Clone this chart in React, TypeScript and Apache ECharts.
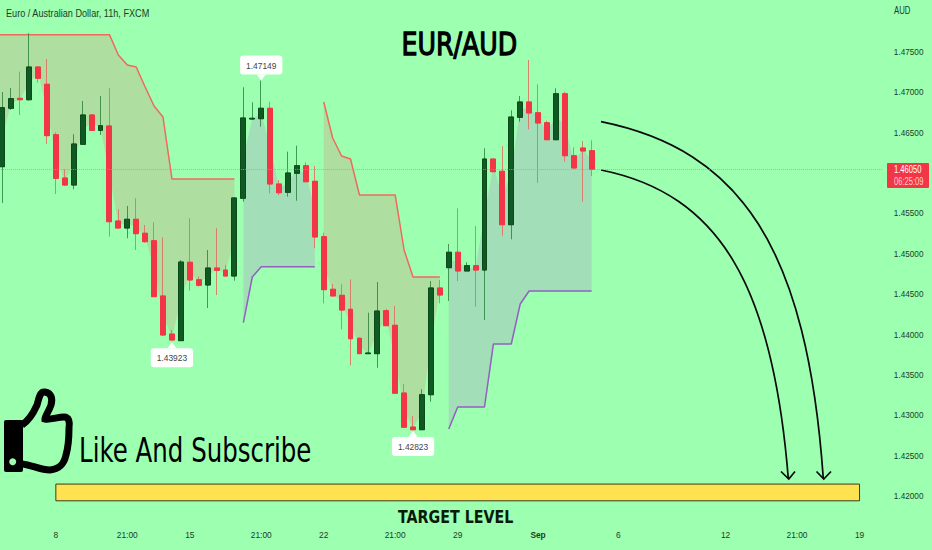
import React, { useEffect, useRef } from "react";
import * as echarts from "echarts";

// [open, close, low, high]; the first candle sits just off the page's left edge
const candles: number[][] = [
  [1.4592,1.4606,1.4585,1.4612],
  [1.46083,1.46813,1.45634,1.47007],[1.46806,1.46925,1.46785,1.47057],[1.46929,1.46912,1.46723,1.47259],[1.46912,1.47317,1.469,1.47734],
  [1.47317,1.47177,1.47123,1.47329],[1.47103,1.46467,1.46364,1.47416],[1.46479,1.45939,1.45745,1.46509],[1.45943,1.45856,1.45844,1.46051],
  [1.45856,1.46364,1.45803,1.46484],[1.4636,1.46723,1.4636,1.46896],[1.46723,1.46533,1.46528,1.46731],[1.46533,1.4659,1.46475,1.46958],
  [1.46587,1.45402,1.45217,1.47053],[1.45411,1.45324,1.45324,1.45556],[1.45324,1.45432,1.45197,1.45597],[1.45432,1.45254,1.45052,1.45692],
  [1.45259,1.45155,1.45142,1.45361],[1.45167,1.44474,1.44474,1.45395],[1.44483,1.44,1.43988,1.45209],[1.44012,1.43938,1.43923,1.44062],
  [1.4393,1.44903,1.4393,1.44928],[1.449,1.44681,1.44548,1.45444],[1.44684,1.44615,1.44598,1.44722],[1.44619,1.44829,1.44334,1.45052],
  [1.44829,1.44801,1.44495,1.45321],[1.44804,1.4473,1.4473,1.44866],[1.4473,1.45696,1.44672,1.45704],[1.45692,1.46686,1.4565,1.47066],
  [1.46673,1.46682,1.4666,1.4688],[1.46677,1.46806,1.46578,1.47149],[1.46806,1.45869,1.45754,1.46887],[1.45869,1.45761,1.45733,1.45918],
  [1.45766,1.46005,1.45712,1.46269],[1.46001,1.46095,1.45662,1.46343],[1.46095,1.45897,1.45897,1.46137],[1.45902,1.45213,1.45073,1.46092],
  [1.45217,1.44561,1.44392,1.45266],[1.44566,1.44483,1.44483,1.44631],[1.44491,1.44309,1.44071,1.44628],[1.44318,1.43954,1.43625,1.44689],
  [1.43959,1.43769,1.43769,1.43972],[1.43769,1.43777,1.43769,1.44276],[1.43769,1.44297,1.43595,1.44656],[1.44301,1.44115,1.44115,1.44322],
  [1.4412,1.43279,1.43279,1.44359],[1.43282,1.42858,1.42858,1.43394],[1.42861,1.42828,1.42823,1.42998],[1.42828,1.43261,1.42823,1.43328],
  [1.43261,1.44582,1.43175,1.44668],[1.44582,1.44495,1.44392,1.44681],[1.44833,1.45024,1.44421,1.45126],[1.45024,1.44792,1.44668,1.45568],
  [1.44792,1.44858,1.44792,1.449],[1.44858,1.44804,1.4435,1.45349],[1.44804,1.46178,1.44186,1.46311],[1.46178,1.46021,1.46021,1.46178],
  [1.46026,1.45365,1.45229,1.46339],[1.45365,1.46698,1.45184,1.46781],[1.46694,1.46884,1.4664,1.46958],[1.46884,1.46748,1.46546,1.47403],
  [1.46751,1.46624,1.45885,1.47103],[1.46627,1.46417,1.46417,1.46652],[1.46417,1.46986,1.46413,1.47053],[1.46986,1.46219,1.46145,1.47011],
  [1.46219,1.46067,1.46067,1.46323],[1.46314,1.46277,1.4565,1.46401],[1.46281,1.4605,1.45968,1.4641],
];

const redLineA = [1.47717,1.47717,1.47717,1.47717,1.47717,1.47717,1.47717,1.47717,1.47717,1.47717,1.47717,1.47717,1.47717,1.47717,1.47465,1.47342,1.47317,1.47069,1.46834,1.46698,1.45931,1.45931,1.45931,1.45931,1.45931,1.45931,1.45931,1.45931];
const purpleLineA = [1.44152,1.44718,1.44845,1.44845,1.44845,1.44845,1.44845,1.44845,1.44845];
const redLineB = [1.46884,1.46438,1.46215,1.46178,1.45733,1.45733,1.45733,1.45733,1.45733,1.45052,1.44718,1.44718,1.44718,1.44718];
const purpleLineB = [1.42837,1.43109,1.43109,1.43109,1.43109,1.43889,1.43889,1.43889,1.44384,1.44545,1.44545,1.44545,1.44545,1.44545,1.44545,1.44545,1.44545];

const xTickIndex = [7, 15, 22, 30, 37, 45, 52, 61, 70, 82, 90, 97];
const xTickLabels = ["8", "21:00", "15", "21:00", "22", "21:00", "29", "Sep", "6", "12", "21:00", "19"];
const categoryCount = 100;

const lastPrice = 1.4605;
const targetTop = 1.42155;
const targetBottom = 1.41948;
const targetFrom = 7;
const targetTo = 97;
const extremes = [
  { index: 30, price: 1.47149, up: true },
  { index: 20, price: 1.43923, up: false },
  { index: 47, price: 1.42823, up: false },
];

const BG = "#9DFFB0";
const GREEN = "#0f5a22";
const RED = "#f23645";
const RED_LINE = "#ee6a5f";
const PURPLE_LINE = "#9360c0";
const RED_FILL = "rgba(250,80,90,0.19)";
const PURPLE_FILL = "rgba(190,60,220,0.17)";
const SANS = "'Liberation Sans',sans-serif";
const TEXT = "#1c3d27";
const SHIFT = 20; // the canvas starts this far left of the page, so the first band can bleed off

const categories = Array.from({ length: categoryCount }, (_, i) => {
  const k = xTickIndex.indexOf(i);
  return k >= 0 ? xTickLabels[k] : "";
});

const pad = (start: number, arr: (number | string)[]) => [
  ...Array(start).fill("-"),
  ...arr,
];
const mid = (i: number) => (candles[i][0] + candles[i][1]) / 2;

function band(name: string, start: number, line: number[], above: boolean) {
  const color = above ? RED_LINE : PURPLE_LINE;
  const fill = above ? RED_FILL : PURPLE_FILL;
  const mids = line.map((_, k) => mid(start + k));
  const diff = line.map((v, k) => (above ? v - mids[k] : mids[k] - v));
  const lower = above ? mids : line;
  const common = { type: "line", stack: name, stackStrategy: "all", showSymbol: false, symbol: "none", z: 1, silent: true };
  return [
    { ...common, name: name + "-base", data: pad(start, lower), lineStyle: above ? { width: 0, opacity: 0 } : { width: 1.5, color } },
    { ...common, name: name + "-fill", data: pad(start, diff), areaStyle: { color: fill, opacity: 1 }, lineStyle: above ? { width: 1.5, color } : { width: 0, opacity: 0 } },
  ];
}

echarts.graphic.registerShape(
  "thumbOutline",
  echarts.graphic.extendPath(
    "M22 425 C28 421 33 414 37 405 C39 398 40 391 45 392 C51 393 53 398 51 405 C49 411 45 416 45 419 C50 420 58 417 64 417 C69 417 70 422 69 428 C69 438 68 448 66 455 C64 464 60 469 50 470 C40 470 32 465 22 464",
    {}
  )
);

export default function App() {
  const ref = useRef<HTMLDivElement>(null);
  useEffect(() => {
    const chart = echarts.init(ref.current!, undefined, { renderer: "svg" });
    const arrow = (pts: number[], head: number[][]) => [
      { type: "bezierCurve", shape: { x1: pts[0], y1: pts[1], cpx1: pts[2], cpy1: pts[3], cpx2: pts[4], cpy2: pts[5], x2: pts[6], y2: pts[7] }, style: { stroke: "#0a0a0a", lineWidth: 1.7, fill: "none" } },
      { type: "polyline", shape: { points: head }, style: { stroke: "#0a0a0a", lineWidth: 1.7, fill: "none" } },
    ];
    chart.setOption({
      animation: false,
      backgroundColor: BG,
      grid: { left: 8.87, width: 893, top: 11.8, height: 525.2, containLabel: false },
      xAxis: {
        type: "category",
        data: categories,
        boundaryGap: true,
        axisLine: { show: false },
        axisTick: { show: false },
        splitLine: { show: false },
        axisLabel: {
          interval: 0,
          margin: -6,
          fontSize: 8.4,
          fontFamily: SANS,
          color: TEXT,
          formatter: (v: string) => (v === "Sep" ? "{b|Sep}" : v),
          rich: { b: { fontWeight: "bold", fontSize: 8.4, fontFamily: SANS, color: TEXT } },
        },
      },
      yAxis: {
        type: "value",
        position: "right",
        min: 1.415,
        max: 1.48,
        interval: 0.005,
        scale: true,
        axisLine: { show: false },
        axisTick: { show: false },
        splitLine: { show: false },
        axisLabel: {
          margin: 12,
          fontSize: 8.2,
          fontFamily: SANS,
          color: TEXT,
          // 1.46000 sits behind the last-price box in the reference
          formatter: (v: number) => (v < 1.4195 || v > 1.4755 || Math.abs(v - 1.46) < 0.0001 ? "" : v.toFixed(5)),
        },
      },
      series: [
        ...band("redA", 0, redLineA, true),
        ...band("purpleA", 28, purpleLineA, false),
        ...band("redB", 37, redLineB, true),
        ...band("purpleB", 51, purpleLineB, false),
        {
          type: "candlestick",
          name: "wicks",
          data: candles,
          barWidth: 5.4,
          z: 2,
          silent: true,
          itemStyle: { color: "rgba(0,0,0,0)", color0: "rgba(0,0,0,0)", borderColor: "rgba(30,120,50,0.75)", borderColor0: "rgba(222,110,95,0.85)", borderWidth: 1 },
          markLine: {
            silent: true,
            symbol: "none",
            precision: 5,
            label: { show: false },
            lineStyle: { color: "#c79a6b", type: "dotted", width: 1, opacity: 0.75 },
            data: [{ yAxis: lastPrice }],
          },
          markArea: {
            silent: true,
            itemStyle: { color: "#FFE24F", borderColor: "#3a3a20", borderWidth: 1 },
            data: [[{ xAxis: targetFrom, yAxis: targetTop }, { xAxis: targetTo, yAxis: targetBottom }]],
          },
        },
        {
          type: "candlestick",
          name: "EUR/AUD",
          data: candles.map(([o, c]) => [o, c, Math.min(o, c), Math.max(o, c)]),
          barWidth: 5.4,
          z: 3,
          silent: true,
          itemStyle: { color: GREEN, color0: RED, borderColor: "#0c4a1c", borderColor0: RED, borderWidth: 1 },
          markPoint: {
            silent: true,
            data: extremes.map((e) => ({
              coord: [e.index, e.price],
              value: e.price,
              symbol: "triangle",
              symbolRotate: e.up ? 180 : 0,
              symbolSize: [9, 6],
              symbolOffset: [0, e.up ? -3 : 4],
              itemStyle: { color: "#fff" },
              label: {
                show: true,
                position: e.up ? "top" : "bottom",
                distance: 0,
                formatter: e.price.toFixed(5),
                backgroundColor: "#fff",
                borderRadius: 3,
                padding: [6, 6, 5, 6],
                color: "#444",
                fontSize: 8.4,
                fontFamily: SANS,
              },
            })),
          },
        },
      ],
      graphic: [
        {
          type: "group",
          x: SHIFT,
          y: 0,
          children: [
            { type: "text", x: 6, y: 8, scaleX: 0.83, style: { text: "Euro / Australian Dollar, 11h, FXCM", font: `11px ${SANS}`, fill: TEXT } },
            { type: "text", x: 894, y: 6, scaleX: 0.78, style: { text: "AUD", font: `10px ${SANS}`, fill: TEXT } },
            { type: "text", x: 401.5, y: 28, scaleX: 0.79, style: { text: "EUR/AUD", font: "32px 'DejaVu Sans'", fill: "#000", stroke: "#000", lineWidth: 1.3 } },
            { type: "text", x: 398, y: 507, scaleX: 0.77, style: { text: "TARGET LEVEL", font: "bold 18.5px 'DejaVu Sans'", fill: "#0a1a0a" } },
            { type: "text", x: 79, y: 434, scaleX: 0.742, style: { text: "Like And Subscribe", font: "33px 'DejaVu Sans'", fill: "#000" } },
            { type: "rect", shape: { x: 887, y: 163, width: 42, height: 25, r: 1 }, style: { fill: RED } },
            { type: "text", x: 894, y: 165, scaleX: 0.76, style: { text: "1.46050", font: `10px ${SANS}`, fill: "#fff" } },
            { type: "text", x: 894, y: 177, scaleX: 0.76, style: { text: "06:25:09", font: `10px ${SANS}`, fill: "#ffd0d4" } },
            { type: "rect", shape: { x: 4, y: 420, width: 19, height: 52, r: 2 }, style: { fill: "#000" } },
            { type: "circle", shape: { cx: 12.7, cy: 461.7, r: 3.5 }, style: { fill: BG } },
            { type: "thumbOutline", x: 0, y: 0, style: { fill: "none", stroke: "#000", lineWidth: 7 } },
            ...arrow([601, 121.7, 741, 150, 807, 248, 823.3, 478.5], [[816.5, 471.5], [823.8, 479], [831, 471.5]]),
            ...arrow([601, 170, 721, 194, 773, 288, 788.3, 478.5], [[781, 471.5], [788.8, 479], [795, 471.5]]),
          ],
        },
      ],
    });
    return () => chart.dispose();
  }, []);
  return <div ref={ref} style={{ position: "fixed", left: -SHIFT, top: 0, width: 932 + SHIFT, height: 550 }} />;
}
